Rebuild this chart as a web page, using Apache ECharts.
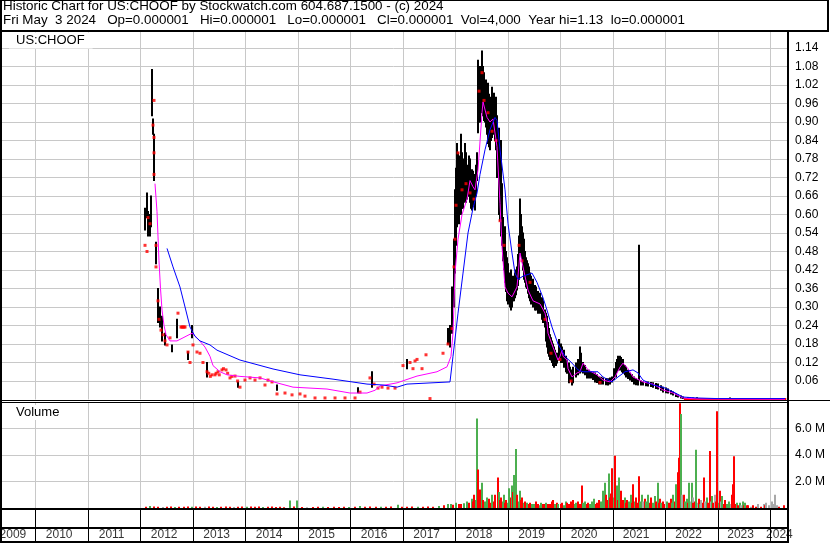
<!DOCTYPE html>
<html><head><meta charset="utf-8">
<script src="https://cdn.jsdelivr.net/npm/echarts@6/dist/echarts.min.js"></script>
<style>html,body{margin:0;padding:0;background:#fff}#c{width:830px;height:543px}</style>
</head><body><div id="c"></div>
<script>
const headerLine1 = 'Historic Chart for US:CHOOF by Stockwatch.com 604.687.1500 - (c) 2024';
const headerLine2 = 'Fri May  3 2024   Op=0.000001   Hi=0.000001   Lo=0.000001   Cl=0.000001  Vol=4,000  Year hi=1.13  lo=0.000001';
const symbolName = 'US:CHOOF';
const volumeTitle = 'Volume';
const yearLabels = ['2009','2010','2011','2012','2013','2014','2015','2016','2017','2018','2019','2020','2021','2022','2023','2024'];
const yearLabelPos = [2009.57,2010.45,2011.45,2012.45,2013.45,2014.45,2015.45,2016.45,2017.45,2018.45,2019.45,2020.45,2021.44,2022.44,2023.43,2024.17];

// [year, low, high]
const priceRanges = [
[2012.086,0.55,0.62],[2012.124,0.59,0.67],[2012.143,0.53,0.61],[2012.181,0.53,0.60],[2012.200,0.56,0.66],
[2012.219,0.92,1.07],[2012.238,0.86,0.91],[2012.257,0.71,0.86],[2012.295,0.44,0.51],[2012.333,0.25,0.36],
[2012.371,0.235,0.30],[2012.410,0.19,0.27],[2012.467,0.177,0.215],[2012.600,0.155,0.177],[2012.695,0.20,0.26],
[2012.905,0.13,0.155],[2012.981,0.20,0.24],[2013.267,0.073,0.12],[2013.857,0.04,0.057],[2014.600,0.03,0.047],
[2016.143,0.022,0.038],[2016.410,0.04,0.09],[2017.076,0.10,0.13],[2017.857,0.18,0.23],
[2017.895,0.17,0.24],[2017.933,0.215,0.365],[2017.971,0.30,0.52],[2017.990,0.41,0.68],[2018.010,0.50,0.75],
[2018.029,0.56,0.83],[2018.048,0.58,0.80],[2018.067,0.57,0.79],[2018.086,0.60,0.78],[2018.105,0.60,0.86],
[2018.124,0.62,0.80],[2018.143,0.62,0.73],[2018.162,0.64,0.78],[2018.181,0.66,0.83],[2018.200,0.64,0.80],
[2018.219,0.65,0.755],[2018.238,0.66,0.76],[2018.257,0.66,0.79],[2018.276,0.64,0.78],[2018.295,0.62,0.72],
[2018.314,0.615,0.745],[2018.333,0.63,0.74],[2018.352,0.66,0.73],[2018.371,0.615,0.69],[2018.390,0.66,0.76],
[2018.410,0.71,0.80],[2018.429,0.865,1.10],[2018.448,0.90,1.04],[2018.467,0.90,1.08],[2018.486,0.93,1.06],
[2018.505,0.95,1.13],[2018.524,0.92,1.08],[2018.543,0.905,1.06],[2018.562,0.90,1.00],[2018.581,0.884,1.036],
[2018.600,0.86,1.02],[2018.619,0.83,1.026],[2018.638,0.82,0.99],[2018.657,0.81,0.98],[2018.676,0.84,0.96],
[2018.695,0.85,1.013],[2018.714,0.86,0.97],[2018.733,0.87,0.993],[2018.752,0.84,0.96],[2018.771,0.81,0.98],
[2018.790,0.72,0.92],[2018.829,0.60,0.88],[2018.848,0.58,0.80],[2018.867,0.53,0.84],[2018.886,0.50,0.70],
[2018.905,0.45,0.59],[2018.924,0.42,0.55],[2018.943,0.38,0.56],[2018.962,0.35,0.48],[2018.981,0.32,0.46],
[2019.000,0.31,0.44],[2019.019,0.32,0.41],[2019.038,0.30,0.40],[2019.057,0.29,0.42],[2019.076,0.30,0.40],
[2019.095,0.32,0.39],[2019.114,0.32,0.40],[2019.133,0.33,0.41],[2019.152,0.34,0.42],[2019.171,0.355,0.43],
[2019.190,0.37,0.47],[2019.210,0.39,0.53],[2019.229,0.495,0.65],[2019.248,0.47,0.60],[2019.267,0.45,0.56],
[2019.286,0.42,0.54],[2019.305,0.39,0.52],[2019.324,0.38,0.48],[2019.343,0.365,0.46],[2019.362,0.36,0.45],
[2019.381,0.345,0.44],[2019.400,0.33,0.43],[2019.419,0.32,0.41],[2019.438,0.31,0.40],[2019.476,0.30,0.39],
[2019.514,0.29,0.37],[2019.533,0.29,0.365],[2019.571,0.28,0.35],[2019.610,0.28,0.345],[2019.648,0.26,0.33],
[2019.667,0.25,0.32],[2019.705,0.235,0.29],[2019.724,0.19,0.28],[2019.743,0.17,0.27],[2019.762,0.15,0.25],
[2019.781,0.14,0.23],[2019.800,0.13,0.21],[2019.819,0.128,0.20],[2019.838,0.12,0.19],[2019.857,0.11,0.18],
[2019.876,0.105,0.17],[2019.895,0.11,0.16],[2019.914,0.11,0.15],[2019.933,0.118,0.15],[2019.971,0.128,0.195],
[2020.010,0.12,0.18],[2020.029,0.12,0.17],[2020.067,0.105,0.16],[2020.105,0.09,0.14],[2020.124,0.085,0.128],
[2020.162,0.054,0.118],[2020.181,0.063,0.105],[2020.219,0.047,0.096],[2020.238,0.054,0.105],[2020.295,0.073,0.118],
[2020.333,0.08,0.13],[2020.371,0.086,0.17],[2020.390,0.09,0.15],[2020.429,0.086,0.12],[2020.467,0.08,0.11],
[2020.505,0.07,0.096],[2020.543,0.07,0.095],[2020.581,0.07,0.09],[2020.619,0.065,0.088],[2020.657,0.057,0.086],
[2020.695,0.055,0.08],[2020.733,0.05,0.073],[2020.771,0.05,0.072],[2020.810,0.05,0.07],[2020.867,0.048,0.068],
[2020.905,0.047,0.067],[2020.943,0.05,0.07],[2020.981,0.057,0.073],[2021.019,0.065,0.10],[2021.057,0.073,0.12],
[2021.076,0.09,0.13],[2021.095,0.096,0.14],[2021.114,0.096,0.135],[2021.133,0.10,0.14],[2021.152,0.096,0.136],
[2021.171,0.09,0.13],[2021.190,0.086,0.13],[2021.229,0.08,0.11],[2021.248,0.073,0.105],[2021.286,0.068,0.095],
[2021.324,0.063,0.086],[2021.362,0.058,0.08],[2021.400,0.05,0.073],[2021.438,0.048,0.068],[2021.476,0.047,0.063],
[2021.495,0.063,0.50],[2021.533,0.047,0.06],[2021.571,0.047,0.057],[2021.629,0.045,0.057],[2021.667,0.044,0.057],
[2021.724,0.042,0.055],[2021.762,0.04,0.054],[2021.819,0.036,0.052],[2021.857,0.034,0.05],[2021.914,0.03,0.045],
[2021.952,0.024,0.04],[2022.010,0.022,0.037],[2022.048,0.021,0.034],[2022.105,0.018,0.028],[2022.143,0.015,0.024],
[2022.200,0.01,0.019],[2022.238,0.008,0.015],[2022.295,0.005,0.011],[2022.333,0.003,0.008],[2022.429,0.002,0.006],
[2022.524,0.002,0.005],[2022.600,0.002,0.006],[2023.229,0.002,0.005]
];

// [year, price] single-print days
const closeDots = [
[2012.086,0.50],[2012.124,0.48],[2012.143,0.59],[2012.181,0.57],[2012.257,0.97],[2012.238,0.89],[2012.257,0.85],
[2012.257,0.80],[2012.257,0.73],[2012.295,0.50],[2012.295,0.43],[2012.333,0.32],[2012.352,0.26],[2012.390,0.225],
[2012.429,0.21],[2012.467,0.19],[2012.505,0.177],[2012.562,0.20],[2012.714,0.28],[2012.771,0.235],[2012.790,0.235],
[2012.810,0.235],[2012.829,0.235],[2012.848,0.235],[2012.905,0.154],[2012.943,0.12],[2013.000,0.177],[2013.076,0.154],
[2013.133,0.15],[2013.190,0.12],[2013.267,0.09],[2013.300,0.085],[2013.330,0.075],[2013.362,0.08],[2013.419,0.08],
[2013.440,0.085],[2013.476,0.09],[2013.500,0.08],[2013.552,0.096],[2013.580,0.10],[2013.629,0.096],[2013.660,0.085],
[2013.705,0.07],[2013.740,0.075],[2013.800,0.076],[2013.850,0.06],[2013.895,0.04],[2013.990,0.063],[2014.086,0.07],
[2014.181,0.063],[2014.276,0.07],[2014.371,0.047],[2014.429,0.063],[2014.505,0.057],[2014.600,0.018],[2014.752,0.021],
[2014.886,0.015],[2015.038,0.018],[2015.133,0.011],[2015.324,0.005],[2015.514,0.005],[2015.705,0.005],[2015.895,0.005],
[2016.086,0.005],[2016.181,0.024],[2016.371,0.07],[2016.448,0.05],[2016.524,0.037],[2016.600,0.04],[2016.714,0.037],
[2016.848,0.037],[2017.000,0.11],[2017.133,0.12],[2017.190,0.10],[2017.229,0.125],[2017.267,0.13],[2017.362,0.10],
[2017.438,0.145],[2017.514,0.003],[2017.762,0.15],[2017.857,0.18],
[2017.933,0.23],[2017.971,0.43],[2017.990,0.52],[2018.010,0.63],[2018.048,0.80],[2018.124,0.68],[2018.200,0.70],
[2018.276,0.67],[2018.352,0.65],[2018.448,1.00],[2018.505,1.06],[2018.543,0.97],[2018.619,0.93],[2018.695,0.87],
[2018.771,0.84],[2018.848,0.58],[2018.924,0.50],[2019.210,0.50],[2019.267,0.45],[2019.419,0.38],[2019.705,0.26],
[2019.819,0.15],[2019.990,0.13],[2020.200,0.06],[2020.752,0.055]
];
const flatClose = [[2022.35,0.0015],[2024.30,0.0015]];

const maShort = [
[2012.276,0.70],[2012.314,0.61],[2012.333,0.53],[2012.352,0.45],[2012.381,0.36],[2012.410,0.29],[2012.448,0.24],
[2012.486,0.21],[2012.562,0.19],[2012.695,0.19],[2012.810,0.20],[2012.981,0.215],[2013.076,0.20],[2013.229,0.17],
[2013.324,0.14],[2013.381,0.11],[2013.514,0.09],[2013.648,0.08],[2013.895,0.075],[2014.276,0.07],[2014.600,0.054],
[2014.905,0.04],[2015.552,0.034],[2015.990,0.021],[2016.314,0.021],[2016.467,0.03],[2016.562,0.044],[2016.886,0.054],
[2017.267,0.076],[2017.648,0.09],[2017.838,0.106],[2017.914,0.14],[2017.952,0.215],[2017.990,0.41],[2018.048,0.52],
[2018.124,0.60],[2018.219,0.65],[2018.276,0.71],[2018.333,0.69],[2018.371,0.68],[2018.429,0.745],[2018.505,0.93],
[2018.524,0.965],[2018.600,0.915],[2018.657,0.90],[2018.714,0.91],[2018.790,0.82],[2018.848,0.635],[2018.886,0.495],
[2018.943,0.365],[2019.000,0.345],[2019.076,0.333],[2019.171,0.365],[2019.229,0.475],[2019.286,0.43],[2019.381,0.355],
[2019.476,0.32],[2019.610,0.31],[2019.705,0.28],[2019.743,0.25],[2019.762,0.215],[2019.857,0.17],[2019.952,0.128],
[2019.990,0.14],[2020.029,0.16],[2020.048,0.14],[2020.124,0.128],[2020.143,0.10],[2020.219,0.073],[2020.238,0.07],
[2020.314,0.086],[2020.371,0.09],[2020.429,0.118],[2020.467,0.11],[2020.524,0.096],[2020.562,0.09],[2020.695,0.08],
[2020.810,0.063],[2020.943,0.057],[2021.038,0.073],[2021.133,0.105],[2021.190,0.118],[2021.286,0.10],[2021.381,0.073],
[2021.571,0.057],[2021.762,0.05],[2021.952,0.031],[2022.143,0.021],[2022.333,0.005],[2022.600,0.002],[2024.276,0.001]
];

const maLong = [
[2012.505,0.49],[2012.619,0.43],[2012.752,0.365],[2012.848,0.30],[2012.943,0.235],[2013.038,0.205],[2013.133,0.19],
[2013.324,0.177],[2013.457,0.16],[2013.895,0.128],[2014.524,0.099],[2015.038,0.08],[2015.667,0.066],[2016.314,0.05],
[2016.619,0.047],[2016.886,0.04],[2017.076,0.05],[2017.895,0.057],[2017.952,0.14],[2018.048,0.28],[2018.143,0.41],
[2018.238,0.54],[2018.333,0.62],[2018.410,0.67],[2018.467,0.73],[2018.562,0.81],[2018.657,0.875],[2018.752,0.915],
[2018.790,0.905],[2018.848,0.81],[2018.943,0.68],[2019.000,0.57],[2019.076,0.475],[2019.133,0.41],[2019.190,0.39],
[2019.286,0.40],[2019.457,0.41],[2019.552,0.38],[2019.667,0.33],[2019.743,0.29],[2019.838,0.235],[2019.952,0.18],
[2020.086,0.14],[2020.219,0.118],[2020.333,0.096],[2020.429,0.09],[2020.714,0.09],[2020.810,0.073],[2020.981,0.057],
[2021.095,0.073],[2021.229,0.09],[2021.381,0.096],[2021.476,0.086],[2021.571,0.063],[2021.762,0.047],[2021.952,0.04],
[2022.143,0.025],[2022.333,0.008],[2022.600,0.005],[2022.981,0.003],[2024.276,0.003]
];

// [year, volume in millions, 0 up / 1 down / 2 unchanged]
const volumes = [
[2012.10,0.10,1],[2012.18,0.15,0],[2012.26,0.12,1],[2012.34,0.10,1],[2012.42,0.08,2],[2012.50,0.10,1],[2012.58,0.12,1],
[2012.66,0.08,0],[2012.74,0.10,1],[2012.82,0.10,1],[2012.90,0.12,1],[2012.98,0.10,0],[2013.06,0.12,1],[2013.14,0.10,1],
[2013.22,0.10,2],[2013.30,0.12,1],[2013.38,0.10,1],[2013.46,0.08,0],[2013.54,0.10,1],[2013.62,0.12,1],[2013.70,0.10,1],
[2013.78,0.08,2],[2013.86,0.10,1],[2013.94,0.12,1],[2014.02,0.10,0],[2014.10,0.12,1],[2014.18,0.10,1],[2014.26,0.12,1],
[2014.34,0.08,0],[2014.42,0.10,1],[2014.50,0.12,1],[2014.58,0.08,1],[2014.66,0.10,1],[2014.74,0.06,1],[2014.85,0.56,0],
[2014.92,0.12,1],[2014.99,0.56,0],[2015.08,0.08,1],[2015.18,0.06,2],[2015.28,0.08,1],[2015.38,0.10,1],[2015.48,0.10,0],
[2015.58,0.08,1],[2015.68,0.10,1],[2015.78,0.08,1],[2015.88,0.10,1],[2015.98,0.08,0],[2016.08,0.10,1],[2016.18,0.15,0],
[2016.28,0.10,1],[2016.38,0.12,1],[2016.48,0.10,1],[2016.58,0.10,0],[2016.68,0.10,1],[2016.78,0.12,1],[2016.90,0.25,0],
[2016.98,0.10,1],[2017.08,0.10,1],[2017.18,0.12,1],[2017.28,0.10,0],[2017.38,0.10,1],[2017.48,0.12,1],[2017.58,0.10,1],
[2017.68,0.15,0],[2017.78,0.20,1],
[2017.86,0.3,0],[2017.91,0.3,0],[2017.96,0.25,1],[2018.01,0.4,0],[2018.06,0.3,1],[2018.11,0.3,1],[2018.16,0.35,0],
[2018.21,0.5,0],[2018.26,0.4,1],[2018.31,0.7,0],[2018.34,0.5,1],[2018.36,1.0,1],[2018.39,0.6,0],[2018.41,6.75,0],
[2018.43,2.9,1],[2018.45,0.8,1],[2018.47,1.4,1],[2018.50,1.9,0],[2018.53,0.6,1],[2018.56,0.5,0],[2018.60,0.8,0],
[2018.64,0.7,1],[2018.67,0.4,1],[2018.70,1.0,0],[2018.73,0.5,1],[2018.75,1.0,1],[2018.80,2.3,1],[2018.82,1.2,0],
[2018.85,0.6,1],[2018.87,0.8,1],[2018.90,0.5,0],[2018.92,1.0,0],[2018.95,0.4,1],[2018.97,0.6,1],[2019.00,0.4,0],
[2019.02,1.5,0],[2019.05,0.8,1],[2019.07,1.7,0],[2019.10,1.2,1],[2019.12,2.5,0],[2019.15,4.45,0],[2019.18,1.0,1],
[2019.20,0.5,0],[2019.22,1.3,0],[2019.25,0.6,1],[2019.27,0.8,1],[2019.30,0.4,0],[2019.32,0.5,1],[2019.35,0.3,1],
[2019.37,0.4,0],[2019.40,0.3,1],[2019.42,0.4,1],[2019.46,0.3,0],[2019.50,0.3,0],[2019.53,0.5,1],[2019.57,0.3,1],
[2019.60,0.2,0],[2019.63,0.4,0],[2019.67,0.3,1],[2019.70,0.3,1],[2019.73,0.4,0],[2019.76,0.3,1],[2019.80,0.3,1],
[2019.83,0.5,1],[2019.86,0.6,1],[2019.90,0.3,0],[2019.93,0.4,1],[2019.96,0.3,0],[2020.00,0.3,1],[2020.03,0.4,1],
[2020.06,0.2,0],[2020.10,0.5,0],[2020.13,0.4,1],[2020.17,0.3,1],[2020.20,0.5,1],[2020.23,0.6,1],[2020.27,0.3,0],
[2020.30,0.4,0],[2020.33,0.5,1],[2020.37,0.3,1],[2020.40,1.7,1],[2020.43,0.4,0],[2020.46,0.5,0],[2020.50,0.3,1],
[2020.53,0.4,1],[2020.57,0.3,0],[2020.60,0.5,0],[2020.64,0.7,0],[2020.67,0.3,1],[2020.70,0.4,1],[2020.74,0.6,1],
[2020.77,0.5,0],[2020.81,1.3,0],[2020.84,1.9,0],[2020.87,1.0,1],[2020.90,0.6,1],[2020.92,2.6,0],[2020.94,0.8,1],
[2020.96,1.1,1],[2020.99,3.0,1],[2021.01,0.8,0],[2021.04,3.95,1],[2021.07,1.7,0],[2021.10,0.6,1],[2021.12,2.3,0],
[2021.14,0.5,0],[2021.16,1.3,1],[2021.19,0.6,1],[2021.22,0.8,0],[2021.25,0.4,1],[2021.27,0.6,1],[2021.30,0.5,0],
[2021.34,1.0,0],[2021.37,0.4,1],[2021.39,1.8,1],[2021.42,0.5,0],[2021.44,0.8,1],[2021.47,0.4,1],[2021.50,2.4,1],
[2021.52,0.5,0],[2021.55,1.0,0],[2021.57,0.4,1],[2021.58,0.5,2],[2021.60,0.7,1],[2021.63,0.5,0],[2021.67,1.0,0],
[2021.70,0.4,1],[2021.73,0.8,1],[2021.76,0.4,0],[2021.80,0.9,0],[2021.82,0.5,1],[2021.85,1.9,0],[2021.87,0.4,1],
[2021.90,0.7,1],[2021.92,0.4,0],[2021.95,0.5,1],[2021.98,0.3,1],[2022.03,0.5,0],[2022.06,0.4,1],[2022.10,0.7,1],
[2022.13,0.4,0],[2022.15,1.0,0],[2022.18,0.5,1],[2022.20,1.8,0],[2022.23,2.7,1],[2022.25,3.8,1],[2022.28,7.9,1],
[2022.30,7.1,0],[2022.32,1.0,2],[2022.35,1.0,1],[2022.38,0.5,0],[2022.40,0.7,0],[2022.43,0.4,1],[2022.45,1.9,0],
[2022.48,0.5,2],[2022.51,1.9,0],[2022.52,0.8,2],[2022.53,0.4,1],[2022.56,0.5,1],[2022.58,4.4,0],[2022.61,0.4,2],
[2022.64,0.7,1],[2022.66,0.3,0],[2022.68,0.6,2],[2022.71,0.4,1],[2022.74,2.3,1],[2022.76,0.5,2],[2022.79,0.8,0],
[2022.81,0.4,1],[2022.84,4.3,1],[2022.86,0.5,2],[2022.89,0.9,0],[2022.91,0.4,1],[2022.94,1.0,2],[2022.96,0.5,1],
[2022.98,7.3,1],[2023.01,0.4,0],[2023.03,1.3,1],[2023.06,0.5,2],[2023.08,0.9,0],[2023.11,0.3,1],[2023.14,0.6,1],
[2023.17,0.3,0],[2023.21,0.5,0],[2023.24,0.3,2],[2023.26,1.0,1],[2023.29,1.8,1],[2023.31,3.9,1],[2023.34,0.3,1],
[2023.36,0.4,0],[2023.39,0.2,1],[2023.41,0.3,1],[2023.42,0.4,0],[2023.44,0.2,2],[2023.47,0.5,0],[2023.50,0.2,1],
[2023.52,0.4,0],[2023.55,0.2,1],[2023.57,0.2,1],[2023.62,0.1,2],[2023.67,0.2,1],[2023.72,0.1,1],[2023.77,0.3,2],
[2023.82,0.1,1],[2023.87,0.3,2],[2023.90,0.2,1],[2023.92,0.4,2],[2023.97,0.2,2],[2024.02,0.5,2],[2024.06,0.3,2],
[2024.09,1.0,2],[2024.13,0.2,2],[2024.17,0.1,1],[2024.25,0.2,1]
];

const FONT = '"Liberation Sans", Arial, sans-serif';
const GRID_GREY = '#c8c8c8';
const volColors = ['#4caf50', '#ff0000', '#a8a8a8'];
const X_MIN = 2009, X_MAX = 2024.333;

const chart = echarts.init(document.getElementById('c'), null, {renderer: 'canvas'});

function xAx(gridIndex, splitColor) {
  return {type: 'value', gridIndex: gridIndex, min: X_MIN, max: X_MAX, interval: 1,
    axisLine: {show: false}, axisTick: {show: false}, axisLabel: {show: false},
    splitLine: {show: true, lineStyle: {color: splitColor, width: 1}}};
}
const priceSplitColors = [];
for (let i = 0; i <= 20; i++) priceSplitColors.push(i === 0 ? 'rgba(0,0,0,0)' : GRID_GREY);

function blk(x, y, w, h) {
  return {type: 'rect', z: 100, silent: true, shape: {x: x, y: y, width: w, height: h}, style: {fill: '#000'}};
}

const option = {
  animation: false,
  backgroundColor: '#fff',
  grid: [
    {left: -17, right: 42, top: 29.5, height: 370, outerBoundsMode: 'none', containLabel: false},
    {left: -17, right: 42, top: 402, height: 106, outerBoundsMode: 'none', containLabel: false},
    {left: -17, right: 42, top: 510, height: 32, outerBoundsMode: 'none', containLabel: false}
  ],
  xAxis: [xAx(0, GRID_GREY), xAx(1, GRID_GREY), xAx(2, '#000')],
  yAxis: [
    {type: 'value', gridIndex: 0, position: 'right', min: 0, max: 1.2, interval: 0.06,
      axisLine: {show: false}, axisTick: {show: false},
      axisLabel: {margin: 7, fontSize: 12, fontFamily: FONT, color: '#000',
        formatter: function (v) { return (v < 0.01 || v > 1.17) ? '' : v.toFixed(2); }},
      splitLine: {show: true, lineStyle: {color: priceSplitColors, width: 1}}},
    {type: 'value', gridIndex: 1, position: 'right', min: 0, max: 8, interval: 2,
      axisLine: {show: false}, axisTick: {show: false},
      axisLabel: {margin: 7, fontSize: 12, fontFamily: FONT, color: '#000',
        formatter: function (v) { return (v < 1 || v > 7) ? '' : v.toFixed(1) + ' M'; }},
      splitLine: {show: true, lineStyle: {color: GRID_GREY, width: 1}}},
    {type: 'value', gridIndex: 2, min: 0, max: 1, show: false, splitLine: {show: false}}
  ],
  series: [
    {type: 'custom', name: 'range', xAxisIndex: 0, yAxisIndex: 0, z: 2,
      data: priceRanges, encode: {x: 0, y: [1, 2]},
      renderItem: function (params, api) {
        const t = api.value(0), lo = api.value(1), hi = api.value(2);
        const a = api.coord([t, lo]), b = api.coord([t, hi]);
        const x = Math.round(a[0]);
        return {type: 'rect', shape: {x: x - 1, y: b[1] - 0.5, width: 2, height: Math.max(1.5, a[1] - b[1] + 1)},
          style: {fill: '#000'}};
      }},
    {type: 'scatter', name: 'dots', xAxisIndex: 0, yAxisIndex: 0, z: 3, data: closeDots,
      symbol: 'rect', symbolSize: 3, itemStyle: {color: '#ff0000'}},
    {type: 'line', name: 'flat', xAxisIndex: 0, yAxisIndex: 0, z: 3, data: flatClose, showSymbol: false,
      lineStyle: {color: '#ff0000', width: 2}},
    {type: 'line', name: 'maShort', xAxisIndex: 0, yAxisIndex: 0, z: 4, data: maShort, showSymbol: false,
      lineStyle: {color: '#ff00ff', width: 1}},
    {type: 'line', name: 'maLong', xAxisIndex: 0, yAxisIndex: 0, z: 5, data: maLong, showSymbol: false,
      lineStyle: {color: '#0000ff', width: 1}},
    {type: 'custom', name: 'volume', xAxisIndex: 1, yAxisIndex: 1, z: 2,
      data: volumes, encode: {x: 0, y: 1},
      renderItem: function (params, api) {
        const t = api.value(0), v = api.value(1), c = api.value(2);
        const base = api.coord([t, 0]), top = api.coord([t, v]);
        const x = Math.round(base[0]);
        return {type: 'rect', shape: {x: x - 1, y: top[1], width: 2, height: base[1] - top[1] + 1},
          style: {fill: volColors[c]}};
      }},
    {type: 'scatter', name: 'years', xAxisIndex: 2, yAxisIndex: 2, z: 5,
      data: yearLabelPos.map(function (t, i) { return [t, 0.22, yearLabels[i]]; }),
      symbolSize: 1, itemStyle: {color: 'rgba(0,0,0,0)'},
      label: {show: true, position: 'inside', fontSize: 12, fontFamily: FONT, color: '#000',
        formatter: function (p) { return p.value[2]; }}}
  ],
  graphic: [
    {type: 'rect', z: 90, silent: true, shape: {x: 0, y: 0, width: 830, height: 30}, style: {fill: '#fff'}},
    {type: 'text', z: 101, silent: true, x: 3, y: 0,
      style: {text: headerLine1, font: '13.4px ' + FONT, fill: '#000', verticalAlign: 'top'}},
    {type: 'text', z: 101, silent: true, x: 3, y: 14,
      style: {text: headerLine2, font: '13.4px ' + FONT, fill: '#000', verticalAlign: 'top'}},
    {type: 'text', z: 101, silent: true, x: 9, y: 32.5,
      style: {text: symbolName, font: '13px ' + FONT, fill: '#000', verticalAlign: 'top',
        backgroundColor: '#fff', padding: [1, 8, 2, 7]}},
    {type: 'text', z: 101, silent: true, x: 9, y: 405,
      style: {text: volumeTitle, font: '13px ' + FONT, fill: '#000', verticalAlign: 'top',
        backgroundColor: '#fff', padding: [1, 3, 1, 7]}},
    blk(0, 0, 829, 1),
    blk(827, 0, 2, 31),
    blk(0, 30, 829, 2),
    blk(0, 0, 2, 543),
    blk(787, 30, 2, 513),
    blk(0, 400, 830, 1),
    blk(0, 402, 788, 1),
    blk(0, 508, 788, 2),
    blk(0, 527, 788, 2),
    blk(0, 541, 788, 2)
  ]
};
chart.setOption(option);
</script>
</body></html>
